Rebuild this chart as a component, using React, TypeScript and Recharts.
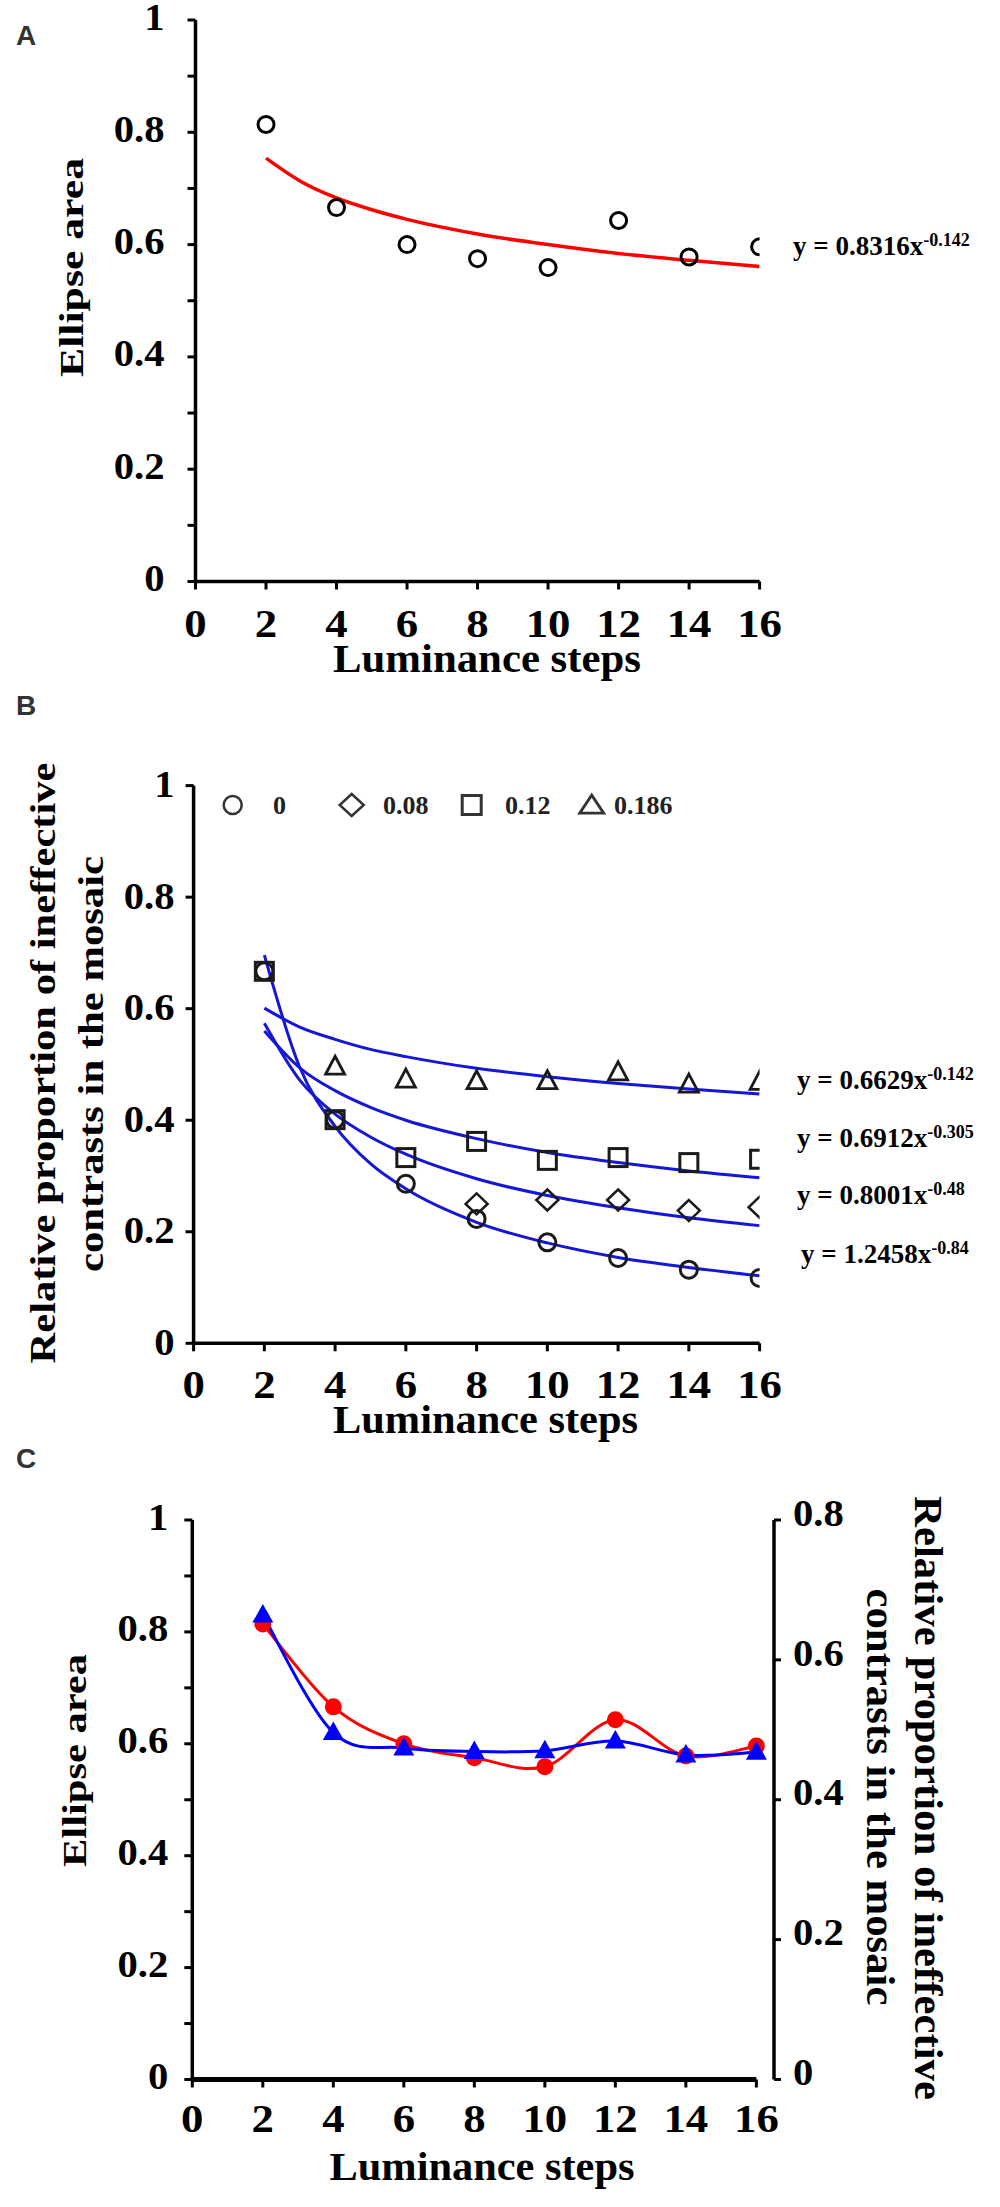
import React from 'react';
import { ComposedChart, Line, Scatter, XAxis, YAxis, ReferenceLine, Customized } from 'recharts';

// luminance steps on the x axis
const steps = [2, 4, 6, 8, 10, 12, 14, 16];
const fitSteps = [2, 3, 4, 5, 6, 8, 10, 12, 14, 16];

// panel A / C: ellipse area
const ellipseArea = [0.814, 0.666, 0.6, 0.575, 0.559, 0.643, 0.578, 0.596];
const ellipseFit = [0.754, 0.712, 0.683, 0.662, 0.645, 0.619, 0.6, 0.584, 0.572, 0.561];

// panel B: relative proportion of ineffective contrasts, one list per noise level
// (null = hidden under another marker in the figure)
const contrast0 = [0.667, 0.401, 0.286, 0.223, 0.181, 0.153, 0.132, 0.117];
const contrast008 = [null, null, null, 0.25, 0.257, 0.257, 0.238, 0.244];
const contrast012 = [0.667, 0.401, 0.333, 0.362, 0.328, 0.333, 0.324, 0.33];
const contrast0186 = [null, 0.497, 0.474, 0.471, 0.471, 0.487, 0.465, 0.47];

const fit0 = [0.696, 0.495, 0.389, 0.322, 0.277, 0.217, 0.18, 0.154, 0.136, 0.121];
const fit008 = [0.574, 0.472, 0.411, 0.37, 0.339, 0.295, 0.265, 0.243, 0.225, 0.211];
const fit012 = [0.56, 0.494, 0.453, 0.423, 0.4, 0.367, 0.342, 0.324, 0.309, 0.297];
const fit0186 = [0.601, 0.567, 0.545, 0.527, 0.514, 0.493, 0.478, 0.466, 0.456, 0.447];

// panel C: right axis series
const contrastC = [0.664, 0.496, 0.474, 0.469, 0.47, 0.484, 0.464, 0.468];

const legendB = ['0', '0.08', '0.12', '0.186'];
const equationA = ['0.8316', '-0.142'];
const equationsB = [
  ['0.6629', '-0.142'],
  ['0.6912', '-0.305'],
  ['0.8001', '-0.48'],
  ['1.2458', '-0.84'],
];

// ticks
const xTicks = [0, 2, 4, 6, 8, 10, 12, 14, 16];
const xTickLabels = ['0', '2', '4', '6', '8', '10', '12', '14', '16'];
const yTicksFine = [0, 0.1, 0.2, 0.3, 0.4, 0.5, 0.6, 0.7, 0.8, 0.9, 1];
const yTickLabelsFine = ['0', '', '0.2', '', '0.4', '', '0.6', '', '0.8', '', '1'];
const yTicksB = [0, 0.2, 0.4, 0.6, 0.8, 1];
const yTickLabelsB = ['0', '0.2', '0.4', '0.6', '0.8', '1'];
const rightTicks = [0, 0.2, 0.4, 0.6, 0.8];
const rightTickLabels = ['0', '0.2', '0.4', '0.6', '0.8'];

const serif = '"Liberation Serif", "Times New Roman", serif';
const sans = '"Liberation Sans", Arial, sans-serif';
const RED = '#ff0000';
const BLUE_B = '#1616d8';
const BLUE_C = '#0000ff';
const MARK = '#1a1a1a';

const rows = (xs: number[], ys: (number | null)[]) =>
  xs.map((x, i) => ({ x, y: ys[i] })).filter((r) => r.y != null);

const axisStyle = { stroke: '#000', strokeWidth: 3.5 };
const tickStyle = { stroke: '#000', strokeWidth: 3 };

function makeTick(labels: string[], size: number, sx: number, dy: string) {
  return (props: any) => {
    const { x, y, index, textAnchor } = props;
    const label = labels[index];
    if (!label) return <g />;
    return (
      <g transform={`translate(${x},${y}) scale(${sx},1)`}>
        <text x={0} y={0} dy={dy} textAnchor={textAnchor} fontFamily={serif} fontWeight="bold" fontSize={size} fill="#000">
          {label}
        </text>
      </g>
    );
  };
}

const xTick = makeTick(xTickLabels, 40, 1.12, '0.68em');

// marker shapes
const openCircle = (r: number, sw: number, color: string) => (p: any) =>
  <circle cx={p.cx} cy={p.cy} r={r} fill="none" stroke={color} strokeWidth={sw} />;
const openDiamond = (w: number, h: number, color: string) => (p: any) => (
  <polygon points={`${p.cx},${p.cy - h} ${p.cx + w},${p.cy} ${p.cx},${p.cy + h} ${p.cx - w},${p.cy}`}
    fill="none" stroke={color} strokeWidth={2.5} />
);
const openSquare = (s: number, color: string) => (p: any) => (
  <rect x={p.cx - s / 2} y={p.cy - s / 2} width={s} height={s} fill="none" stroke={color} strokeWidth={3} />
);
const openTriangle = (w: number, h: number, color: string) => (p: any) => (
  <polygon points={`${p.cx},${p.cy - h * 0.55} ${p.cx + w / 2},${p.cy + h * 0.45} ${p.cx - w / 2},${p.cy + h * 0.45}`}
    fill="none" stroke={color} strokeWidth={2.8} />
);
const redDot = (p: any) => <circle cx={p.cx} cy={p.cy} r={8.5} fill={RED} />;
const blueTriangle = (p: any) => (
  <polygon points={`${p.cx},${p.cy - 11} ${p.cx + 10.5},${p.cy + 7.5} ${p.cx - 10.5},${p.cy + 7.5}`} fill={BLUE_C} />
);

// excel-like smoothed line (catmull-rom through the points)
const excelSmooth = (context: any) => {
  let pts: number[][] = [];
  return {
    areaStart() {},
    areaEnd() {},
    lineStart() {
      pts = [];
    },
    point(x: number, y: number) {
      pts.push([+x, +y]);
    },
    lineEnd() {
      const n = pts.length;
      if (!n) return;
      context.moveTo(pts[0][0], pts[0][1]);
      for (let i = 0; i < n - 1; i++) {
        const p0 = pts[Math.max(i - 1, 0)];
        const p1 = pts[i];
        const p2 = pts[i + 1];
        const p3 = pts[Math.min(i + 2, n - 1)];
        context.bezierCurveTo(
          p1[0] + (p2[0] - p0[0]) / 6,
          p1[1] + (p2[1] - p0[1]) / 6,
          p2[0] - (p3[0] - p1[0]) / 6,
          p2[1] - (p3[1] - p1[1]) / 6,
          p2[0],
          p2[1]
        );
      }
    },
  };
};

function Title({ x, y, text, size, length, rotate = 0 }: any) {
  return (
    <text
      x={x}
      y={y}
      transform={rotate ? `rotate(${rotate},${x},${y})` : undefined}
      textAnchor="middle"
      fontFamily={serif}
      fontWeight="bold"
      fontSize={size}
      textLength={length}
      lengthAdjust="spacingAndGlyphs"
      fill="#000"
    >
      {text}
    </text>
  );
}

function Equation({ x, y, coef, exp }: any) {
  return (
    <text x={x} y={y} fontFamily={serif} fontWeight="bold" fontSize={27} fill="#000">
      y = {coef}x
      <tspan fontSize={18} dy={-9}>
        {exp}
      </tspan>
    </text>
  );
}

function Letter({ y, text }: any) {
  return (
    <text x={16} y={y} fontFamily={sans} fontWeight="bold" fontSize={28} fill="#333">
      {text}
    </text>
  );
}

function AnnotA() {
  return (
    <g>
      <Letter y={45} text="A" />
      <Title x={83} y={267.5} text="Ellipse area" size={34} length={219} rotate={-90} />
      <Title x={487} y={672} text="Luminance steps" size={39} length={308} />
      <Equation x={793} y={255} coef={equationA[0]} exp={equationA[1]} />
    </g>
  );
}

function AnnotB() {
  const legendX = [232.7, 351.7, 471.7, 591.7];
  const textX = [273, 383, 505, 614];
  const cy = 115;
  const shapes = [
    openCircle(9, 2.5, '#333'),
    openDiamond(12, 11, '#333'),
    openSquare(19, '#333'),
    openTriangle(24, 18, '#333'),
  ];
  const eqY = [399, 457, 514, 573];
  const eqX = [797, 797, 797, 801];
  return (
    <g>
      <Letter y={25} text="B" />
      <Title x={55} y={373} text="Relative proportion of ineffective" size={36} length={601} rotate={-90} />
      <Title x={103} y={374} text="contrasts in the mosaic" size={36} length={416} rotate={-90} />
      <Title x={485.5} y={743} text="Luminance steps" size={39} length={305} />
      {legendB.map((label, i) => (
        <g key={label}>
          {shapes[i]({ cx: legendX[i], cy })}
          <text x={textX[i]} y={cy + 8.5} fontFamily={serif} fontWeight="bold" fontSize={26} fill="#222">
            {label}
          </text>
        </g>
      ))}
      {equationsB.map((eq, i) => (
        <Equation key={eq[0]} x={eqX[i]} y={eqY[i]} coef={eq[0]} exp={eq[1]} />
      ))}
    </g>
  );
}

function AnnotC() {
  return (
    <g>
      <Letter y={23} text="C" />
      <Title x={86} y={315.5} text="Ellipse area" size={34} length={213} rotate={-90} />
      <Title x={915} y={353} text="Relative proportion of ineffective" size={39} length={604} rotate={90} />
      <Title x={866.7} y={352} text="contrasts in the mosaic" size={39} length={417} rotate={90} />
      <Title x={482} y={735} text="Luminance steps" size={39} length={305} />
    </g>
  );
}

function PanelA() {
  return (
    <ComposedChart width={1000} height={690} margin={{ top: 20, right: 240.4, bottom: 0, left: 0 }}>
      <XAxis type="number" dataKey="x" domain={[0, 16]} ticks={xTicks} interval={0} height={108.5}
        tickSize={8} tickMargin={20} axisLine={axisStyle} tickLine={tickStyle} tick={xTick} allowDataOverflow />
      <YAxis type="number" domain={[0, 1]} ticks={yTicksFine} interval={0} width={195.5}
        tickSize={8} tickMargin={23} axisLine={axisStyle} tickLine={tickStyle}
        tick={makeTick(yTickLabelsFine, 38, 1.07, '0.25em')} allowDataOverflow />
      <Scatter data={rows(steps, ellipseArea)} dataKey="y" shape={openCircle(8, 3, '#000')} isAnimationActive={false} />
      <Line data={rows(fitSteps, ellipseFit)} dataKey="y" type="monotone" stroke={RED} strokeWidth={3.5}
        dot={false} activeDot={false} isAnimationActive={false} />
      <Customized component={<AnnotA />} />
    </ComposedChart>
  );
}

function PanelB() {
  const fits = [fit0186, fit012, fit008, fit0];
  return (
    <ComposedChart width={1000} height={755} margin={{ top: 95.6, right: 240.4, bottom: 0, left: 0 }}>
      <XAxis type="number" dataKey="x" domain={[0, 16]} ticks={xTicks} interval={0} height={101.7}
        tickSize={8} tickMargin={19} axisLine={axisStyle} tickLine={tickStyle} tick={xTick} allowDataOverflow />
      <YAxis type="number" domain={[0, 1]} ticks={yTicksB} interval={0} width={193.6}
        tickSize={8} tickMargin={11} axisLine={axisStyle} tickLine={tickStyle}
        tick={makeTick(yTickLabelsB, 38, 1.07, '0.3em')} allowDataOverflow />
      <Scatter data={rows(steps, contrast0186)} dataKey="y" shape={openTriangle(19, 18, MARK)} isAnimationActive={false} />
      <Scatter data={rows(steps, contrast0)} dataKey="y" shape={openCircle(8.5, 3, MARK)} isAnimationActive={false} />
      <Scatter data={rows(steps, contrast008)} dataKey="y" shape={openDiamond(11, 10.5, MARK)} isAnimationActive={false} />
      <Scatter data={rows(steps, contrast012)} dataKey="y" shape={openSquare(18, MARK)} isAnimationActive={false} />
      {fits.map((f, i) => (
        <Line key={i} data={rows(fitSteps, f)} dataKey="y" type="monotone" stroke={BLUE_B} strokeWidth={3}
          dot={false} activeDot={false} isAnimationActive={false} />
      ))}
      <Customized component={<AnnotB />} />
    </ComposedChart>
  );
}

function PanelC() {
  return (
    <ComposedChart width={1000} height={762} margin={{ top: 75, right: 0, bottom: 0, left: 0 }}>
      <XAxis type="number" dataKey="x" domain={[0, 16.5]} ticks={xTicks} interval={0} height={127.5}
        tickSize={8} tickMargin={17} axisLine={false} tickLine={tickStyle} tick={xTick} allowDataOverflow />
      <YAxis yAxisId="left" type="number" domain={[0, 1]} ticks={yTicksFine} interval={0} width={192.3}
        tickSize={8} tickMargin={16} axisLine={axisStyle} tickLine={tickStyle}
        tick={makeTick(yTickLabelsFine, 38, 1.07, '0.25em')} allowDataOverflow />
      <YAxis yAxisId="right" orientation="right" type="number" domain={[0, 0.8]} ticks={rightTicks} interval={0}
        width={226} tickSize={7} tickMargin={12} axisLine={axisStyle} tickLine={tickStyle}
        tick={makeTick(rightTickLabels, 38, 1.07, '0.15em')} allowDataOverflow />
      <ReferenceLine yAxisId="left" segment={[{ x: 0, y: 0 }, { x: 16, y: 0 }]} stroke="#000" strokeWidth={5} />
      <Line yAxisId="left" data={rows(steps, ellipseArea)} dataKey="y" type={excelSmooth as any} stroke={RED}
        strokeWidth={3} dot={false} activeDot={false} isAnimationActive={false} />
      <Scatter yAxisId="left" data={rows(steps, ellipseArea)} dataKey="y" shape={redDot} isAnimationActive={false} />
      <Line yAxisId="right" data={rows(steps, contrastC)} dataKey="y" type={excelSmooth as any} stroke={BLUE_C}
        strokeWidth={3} dot={false} activeDot={false} isAnimationActive={false} />
      <Scatter yAxisId="right" data={rows(steps, contrastC)} dataKey="y" shape={blueTriangle} isAnimationActive={false} />
      <Customized component={<AnnotC />} />
    </ComposedChart>
  );
}

export default function App() {
  return (
    <div style={{ position: 'relative', width: 1000, height: 2207, background: '#fff' }}>
      <style>{'body{margin:0;} svg{overflow:visible;}'}</style>
      <div style={{ position: 'absolute', left: 0, top: 0 }}>
        <PanelA />
      </div>
      <div style={{ position: 'absolute', left: 0, top: 690 }}>
        <PanelB />
      </div>
      <div style={{ position: 'absolute', left: 0, top: 1445 }}>
        <PanelC />
      </div>
    </div>
  );
}
